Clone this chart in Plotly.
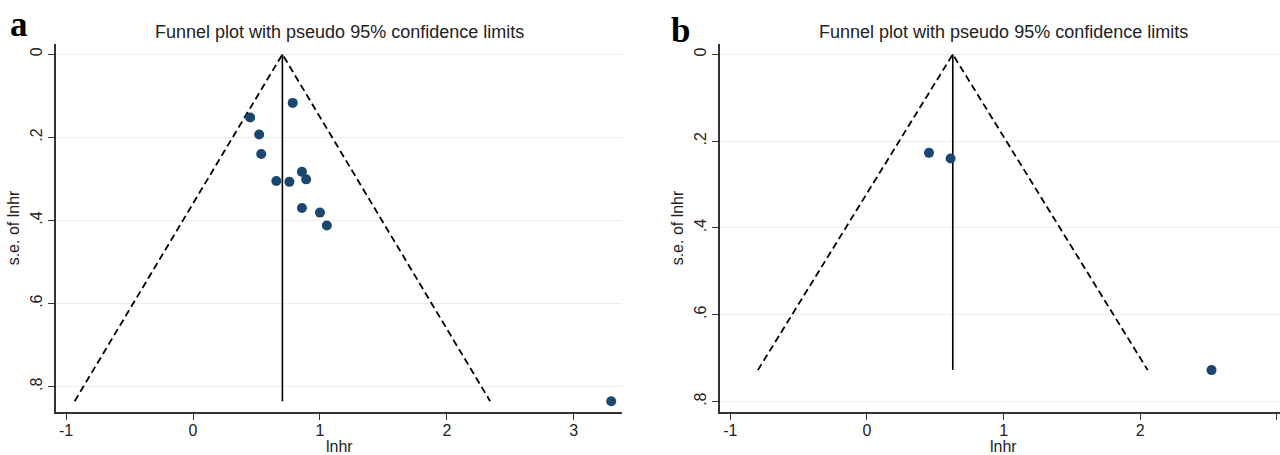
import plotly.graph_objects as go

# ---- Data ----
# Panel a
a_lnhr = [0.785, 0.450, 0.521, 0.537, 0.858, 0.656, 0.759, 0.891, 0.858, 1.000, 1.054, 3.295]
a_se = [0.117, 0.152, 0.193, 0.240, 0.283, 0.305, 0.307, 0.301, 0.370, 0.381, 0.412, 0.835]
a_pooled = 0.704
a_se_max = 0.835
a_funnel_x = [-0.933, 0.704, 2.341]
a_funnel_y = [0.835, 0.0, 0.835]

# Panel b
b_lnhr = [0.454, 0.612, 2.521]
b_se = [0.227, 0.240, 0.7275]
b_pooled = 0.628
b_se_max = 0.7275
b_funnel_x = [-0.798, 0.628, 2.054]
b_funnel_y = [0.7275, 0.0, 0.7275]

x_ticks = [-1, 0, 1, 2, 3]
x_ticktext = ["-1", "0", "1", "2", "3"]
y_ticks = [0, 0.2, 0.4, 0.6, 0.8]
y_ticktext = ["0", ".2", ".4", ".6", ".8"]

title_text = "Funnel plot with pseudo 95% confidence limits"
x_title = "lnhr"
y_title = "s.e. of lnhr"

W, H = 1280, 455
MARKER = "#1a476f"
FONT = "Liberation Sans, Arial, sans-serif"
SERIF = "Liberation Serif, Times New Roman, serif"

fig = go.Figure()

def add_panel(xs, ys, pooled, semax, fx, fy, xa, ya):
    fig.add_trace(go.Scatter(x=fx, y=fy, mode="lines", xaxis=xa, yaxis=ya,
                             line=dict(color="black", width=1.8, dash="7px,4px"),
                             hoverinfo="skip", showlegend=False))
    fig.add_trace(go.Scatter(x=[pooled, pooled], y=[0, semax], mode="lines", xaxis=xa, yaxis=ya,
                             line=dict(color="black", width=1.6),
                             hoverinfo="skip", showlegend=False))
    fig.add_trace(go.Scatter(x=xs, y=ys, mode="markers", xaxis=xa, yaxis=ya,
                             marker=dict(color=MARKER, size=10, line=dict(width=0)),
                             showlegend=False))

add_panel(a_lnhr, a_se, a_pooled, a_se_max, a_funnel_x, a_funnel_y, "x", "y")
add_panel(b_lnhr, b_se, b_pooled, b_se_max, b_funnel_x, b_funnel_y, "x2", "y2")

def px_x(p):
    return p / W

def px_y(p):
    return 1 - p / H

top_px, bot_px = 44, 412

common_x = dict(tickmode="array", tickvals=x_ticks, ticktext=x_ticktext,
                showgrid=False, zeroline=False, showline=True, linecolor="#333333",
                linewidth=1.5, ticks="outside", ticklen=6, tickwidth=1.2, tickcolor="#333333",
                ticklabelstandoff=-3,
                tickfont=dict(family=FONT, size=16, color="#222222"))
common_y = dict(tickmode="array", tickvals=y_ticks, ticktext=y_ticktext, tickangle=-90,
                showgrid=True, gridcolor="#ececec", gridwidth=1, zeroline=False,
                showline=True, linecolor="#333333", linewidth=1.5,
                ticks="outside", ticklen=6, tickwidth=1.2, tickcolor="#333333",
                tickfont=dict(family=FONT, size=16, color="#222222"),
                title=dict(text=y_title, font=dict(family=FONT, size=16, color="#222222"), standoff=4))

def ann(text, x, y, font, yanchor="middle"):
    return dict(text=text, x=px_x(x), y=px_y(y), xref="paper", yref="paper",
                xanchor="center", yanchor=yanchor, showarrow=False, font=font)

fig.update_layout(
    width=W, height=H,
    margin=dict(l=0, r=0, t=0, b=0),
    paper_bgcolor="white", plot_bgcolor="white",
    xaxis=dict(domain=[px_x(56), px_x(622)], range=[-1.08, 3.38], anchor="y", **common_x),
    yaxis=dict(domain=[px_y(bot_px), px_y(top_px)], range=[0.861, -0.0248], anchor="x", **common_y),
    xaxis2=dict(domain=[px_x(720), 1.0], range=[-1.075, 3.022], anchor="y2", **common_x),
    yaxis2=dict(domain=[px_y(bot_px), px_y(top_px)], range=[0.824, -0.0238], anchor="x2", **common_y),
    annotations=[
        ann(title_text, 339, 32, dict(family=FONT, size=18, color="#222222")),
        ann(title_text, 1003, 32, dict(family=FONT, size=18, color="#222222")),
        ann(x_title, 339, 457, dict(family=FONT, size=16, color="#222222"), yanchor="bottom"),
        ann(x_title, 1003, 457, dict(family=FONT, size=16, color="#222222"), yanchor="bottom"),
        ann("<b>a</b>", 18.5, 24, dict(family=SERIF, size=35, color="black")),
        ann("<b>b</b>", 680, 31, dict(family=SERIF, size=35, color="black")),
    ],
)

fig.write_html("out.html", config={"displayModeBar": False},
               post_script="document.body.style.margin='0';document.body.style.overflow='hidden';")
